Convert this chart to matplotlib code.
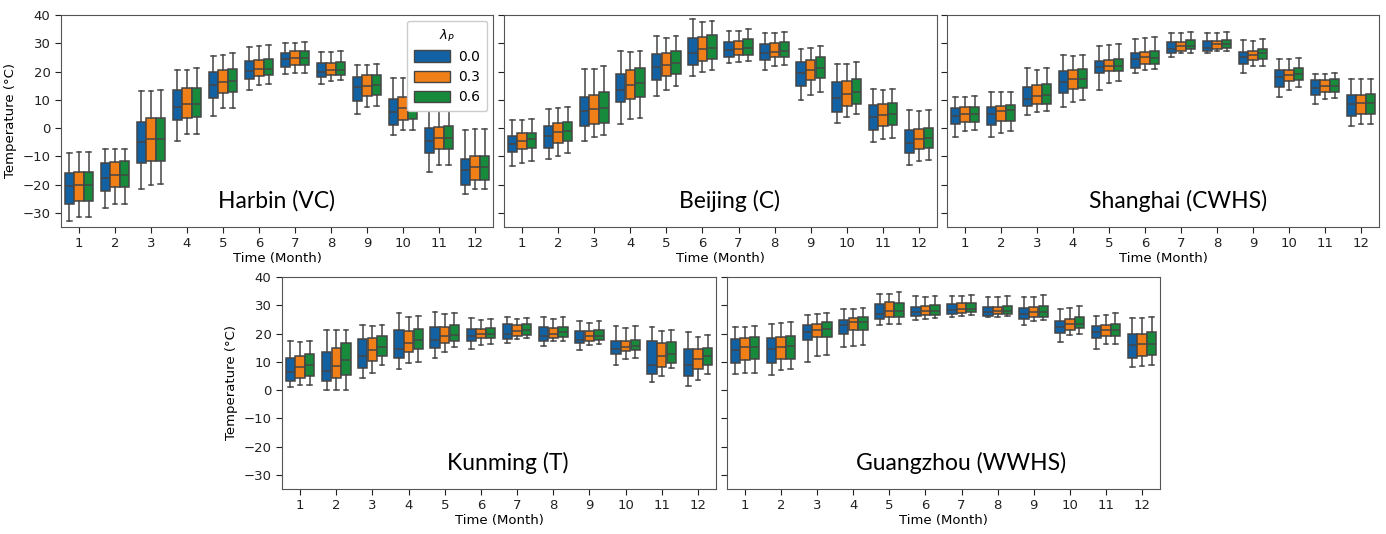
import matplotlib
matplotlib.use("Agg")
import matplotlib.pyplot as plt
from matplotlib.patches import Patch

# box stats per month: (whisker low, q1, median, q3, whisker high)
months = [str(m) for m in range(1, 13)]
lambdas = ["0.0", "0.3", "0.6"]
colors = ["#1262a3", "#f07f17", "#178a3b"]

harbin_00 = [(-33, -27, -20.5, -16, -8.7), (-28.3, -22.2, -17.7, -12.4, -7.3), (-21.5, -12.3, -4.8, 2.0, 13),
             (-4.5, 2.7, 7.5, 13.6, 20.5), (4.2, 10.6, 15.2, 20, 25.4), (13.4, 17.3, 20.3, 23.9, 28.6),
             (19, 21.6, 24.4, 26.7, 30.2), (15.6, 17.9, 20, 23, 27), (5, 9.7, 14.5, 18.2, 22.2),
             (-2.4, 1.2, 5.8, 10.2, 17.6), (-15.4, -8.8, -4.5, 0, 6.8), (-23.4, -20.1, -15, -10.8, -0.7)]
harbin_03 = [(-31.5, -25.7, -20, -15.7, -8.5), (-27, -20.7, -16.7, -12, -7.5), (-20, -11.8, -3.8, 3.5, 13.2),
             (-2.2, 3.5, 8.5, 14, 20.5), (7, 12.4, 16.4, 20.4, 26), (15.4, 18.5, 21, 24, 29),
             (19.6, 22.4, 24.8, 27.3, 30.2), (16.8, 18.8, 20.5, 23, 27), (7.6, 11.3, 15, 18.6, 22.4),
             (-0.8, 2.9, 7, 11, 17.6), (-13.2, -7.3, -3.6, 0.4, 7.4), (-21.7, -18.4, -13.8, -10, -0.5)]
harbin_06 = [(-31.3, -25.8, -20, -15.4, -8.3), (-27, -20.7, -16.6, -11.7, -7.3), (-19.8, -11.7, -3.7, 3.6, 13.3),
             (-2.2, 3.8, 8.6, 14.3, 21.2), (7.2, 12.6, 16.6, 20.8, 26.6), (15.6, 18.6, 21, 24.4, 29.4),
             (19.6, 22.4, 24.9, 27.4, 30.4), (17, 18.9, 20.6, 23.4, 27.2), (7.8, 11.6, 15.2, 18.8, 22.6),
             (-0.8, 3.1, 7.2, 11.2, 17.8), (-13.2, -7.3, -3.6, 0.6, 7.4), (-21.6, -18.3, -13.6, -9.8, -0.4)]

beijing_00 = [(-13.5, -8.6, -5.8, -2.8, 2.7), (-11, -6.9, -2.8, 0.8, 6.7), (-4.4, 0.6, 5.9, 11, 21),
              (1.5, 9.2, 13.4, 19.3, 27.2), (11.2, 16.9, 21.7, 26.2, 32.5), (18.3, 22.2, 26.7, 32, 38.5),
              (23, 25.2, 27.6, 30.4, 34.4), (20.4, 24.1, 26.4, 29.6, 33.7), (9.8, 15, 19.5, 23.2, 27.8),
              (1.8, 5.6, 10.8, 16.4, 22.5), (-5.1, -0.8, 3.8, 8.3, 13.7), (-13.1, -8.9, -5.2, -0.8, 6.5)]
beijing_03 = [(-12.3, -7.5, -4.6, -1.9, 3), (-9.8, -5.4, -1.5, 1.7, 7), (-3, 1.4, 6.9, 11.8, 21),
              (3.1, 10.4, 15.1, 20.5, 26.9), (13.6, 18.3, 22.4, 26.6, 32), (19.9, 23.8, 27.8, 32.1, 37.4),
              (23.4, 25.9, 27.9, 30.7, 34.3), (22.1, 25.1, 27, 30, 33.7), (11.7, 16.9, 20.7, 24.1, 28.3),
              (3.8, 7.9, 12.1, 16.8, 22.8), (-4, 0.6, 4.6, 8.4, 13.6), (-11.8, -7.3, -3.9, -0.2, 6.2)]
beijing_06 = [(-11.8, -6.9, -4, -1.7, 3.1), (-8.8, -4.7, -1.2, 2, 7.4), (-2.6, 1.7, 7.2, 12.7, 21.9),
              (3.6, 11, 16.1, 21.3, 27.3), (14.8, 19, 23.1, 27.2, 32.5), (20.7, 24.3, 28.2, 32.9, 37.9),
              (23.7, 26, 28.2, 31.4, 34.9), (22.4, 25.1, 27.2, 30.3, 34), (12.8, 17.6, 21.4, 25, 29.1),
              (5, 8.4, 12.8, 17.4, 23.4), (-3.6, 1.1, 5, 8.8, 13.8), (-11.4, -6.9, -3.6, 0.2, 6.4)]

shanghai_00 = [(-3.3, 1.3, 4.4, 7, 11), (-3.2, 1.1, 4.9, 7.6, 12.7), (4.7, 7.8, 10.3, 14.4, 21.1),
               (7.5, 12.3, 16.2, 20.1, 25.7), (13.4, 19.4, 21.5, 23.8, 29.2), (19.4, 21.4, 24.4, 26.7, 31.4),
               (25.1, 26.6, 28, 30.5, 33.5), (26.4, 27.2, 28.4, 30.7, 33.5), (19.5, 22.8, 25.2, 27, 31.1),
               (11, 14.6, 18.1, 20.4, 24.3), (8.4, 11.6, 14, 16.9, 19.3), (0.6, 4.1, 8.4, 11.7, 17.2)]
shanghai_03 = [(-1, 2, 5.1, 7.3, 11), (-1.8, 2.6, 6, 7.8, 12.7), (5.8, 8.4, 11.5, 15.1, 20.6),
               (9.1, 13.8, 17.2, 20.5, 25.4), (16, 20.1, 22.1, 24.1, 29.5), (20.6, 22.6, 25, 26.9, 32),
               (26.4, 27.3, 28.9, 30.5, 33.5), (27.1, 28, 29.6, 30.7, 33.5), (21.9, 24, 26, 27.3, 30.8),
               (13.6, 16.7, 18.8, 20.7, 24.3), (10.3, 12.8, 14.9, 17, 19.3), (1.4, 5.1, 8.9, 11.8, 17.4)]
shanghai_06 = [(-0.8, 2, 5.1, 7.5, 11.2), (-1.2, 2.6, 6.3, 8, 12.9), (6, 8.4, 11.8, 15.5, 21.1),
               (10.1, 14.1, 17.3, 20.8, 25.9), (16.7, 20.1, 22.1, 24.6, 29.9), (20.8, 22.6, 24.9, 27.3, 32.3),
               (26.4, 27.8, 29, 31, 34.1), (27.1, 28.2, 29.6, 31.2, 34), (22.1, 24.3, 26.4, 28, 31.4),
               (14.7, 16.9, 19.3, 21.4, 24.9), (10.6, 12.8, 15, 17.3, 19.5), (1.5, 5.1, 8.9, 12, 17.5)]

kunming_00 = [(1.1, 3.1, 6.3, 11.4, 17.3), (-0.1, 3.1, 6.8, 13.5, 21.4), (4.4, 7.7, 12, 18.2, 22.9),
              (7.5, 11.2, 14.7, 21.1, 27.2), (11.5, 14.9, 17.8, 22.2, 27.7), (14.5, 17.5, 19.1, 21.6, 25.6),
              (16.6, 18.1, 19.8, 23.2, 25.9), (15.5, 17.5, 19.1, 22.3, 25.8), (14.2, 16.6, 17.7, 20.9, 24.5),
              (8.7, 12.6, 14.6, 17.2, 22.6), (2.8, 5.6, 8.9, 17.4, 22.3), (1.5, 5, 9, 14.6, 20.5)]
kunming_03 = [(1.7, 4.2, 8, 12.2, 17.1), (-0.1, 4.3, 8.6, 14.9, 21.1), (6.2, 10.2, 14.1, 18.4, 22.5),
              (9.4, 13.4, 16.8, 20.9, 25.8), (13.6, 16.6, 19, 22.4, 26.9), (15.8, 18.4, 20, 21.7, 24.9),
              (18.1, 19.1, 21, 23, 25.1), (17.3, 18.5, 20, 21.8, 25.1), (15.8, 17.5, 19, 20.9, 23.9),
              (10.9, 13.8, 15.2, 17.4, 22.1), (5.1, 8.1, 11.9, 16.5, 20.9), (3.6, 7.6, 10.9, 14.5, 18.8)]
kunming_06 = [(1.9, 4.9, 8.8, 12.8, 17.3), (0, 5.5, 10.6, 16.7, 21.4), (8.9, 12.2, 15.2, 19.1, 22.9),
              (10.1, 14.7, 17.8, 21.7, 26.2), (15.2, 17.3, 19.4, 23.1, 27.4), (16.2, 18.4, 20, 22, 25.2),
              (18.5, 19.6, 21.1, 23.2, 25.6), (17.5, 18.8, 20.4, 22.3, 25.7), (16.2, 17.8, 19.1, 21.1, 24.3),
              (11.2, 14.2, 15.5, 17.8, 22.5), (7.7, 9.7, 12.8, 17, 21.2), (5.6, 8.9, 11.9, 14.9, 19.4)]

guangzhou_00 = [(5.6, 9.4, 14.3, 17.9, 22.2), (5.4, 9.4, 14.5, 18.3, 23.4), (10.1, 17.8, 20.6, 23.1, 26.7),
                (15.1, 19.9, 23.1, 24.9, 28.7), (23.1, 25.2, 27, 30.4, 34.1), (24.9, 26.1, 27.5, 29.3, 33.3),
                (25.7, 26.9, 28.2, 30.3, 33.4), (25.7, 26.3, 27.7, 29.3, 32.9), (23.1, 25.2, 26.9, 29, 32.9),
                (17.1, 20.3, 22.3, 24.5, 28.8), (14.4, 18.4, 20.6, 22.6, 26.1), (8.1, 11.3, 15.8, 19.7, 25.4)]
guangzhou_03 = [(6, 10.8, 15.2, 18.3, 22.2), (7.1, 11.1, 15.3, 18.9, 23.6), (12, 18.6, 21.2, 23.5, 26.9),
                (15.6, 21.2, 24.2, 25.5, 28.7), (23.2, 26, 28.1, 31, 34.1), (25.1, 26.4, 28, 29.6, 32.9),
                (26.3, 27.2, 28.8, 30.8, 33.4), (26, 26.9, 28.1, 29.4, 32.9), (24.5, 25.8, 27.5, 29.4, 32.9),
                (19.6, 21.3, 23.2, 25.1, 29.1), (16.2, 19.3, 21.3, 23, 26.4), (8.5, 12.1, 16.2, 20, 25.4)]
guangzhou_06 = [(6.2, 11, 15.2, 18.6, 22.6), (7.5, 11.1, 15.6, 19.1, 24.1), (12.4, 18.7, 21.5, 24.1, 27.4),
                (15.8, 21.2, 24.2, 25.8, 29), (23.2, 26, 28.1, 30.9, 34.6), (25.4, 26.4, 28.1, 30.1, 33.3),
                (26.4, 27.6, 28.8, 30.9, 33.6), (26.1, 26.9, 28.1, 29.8, 33.4), (24.7, 25.8, 27.6, 29.7, 33.5),
                (20, 21.8, 23.4, 25.7, 29.6), (16.4, 19.2, 21.3, 23.5, 27.1), (8.7, 12.4, 16.3, 20.5, 25.8)]

cities = ["Harbin (VC)", "Beijing (C)", "Shanghai (CWHS)", "Kunming (T)", "Guangzhou (WWHS)"]
city_data = [
    [harbin_00, harbin_03, harbin_06],
    [beijing_00, beijing_03, beijing_06],
    [shanghai_00, shanghai_03, shanghai_06],
    [kunming_00, kunming_03, kunming_06],
    [guangzhou_00, guangzhou_03, guangzhou_06],
]

W, H = 1386, 534
# axes boxes in pixels: left, top, right, bottom
boxes_px = [(61, 15, 493, 227), (504, 15, 937, 227), (947, 15, 1379, 227),
            (282, 277, 716, 489), (727, 277, 1160, 489)]
label_x = [0.5, 0.52, 0.535, 0.52, 0.54]
show_ylabels = [True, False, False, True, False]

line_c = "#454545"
fig = plt.figure(figsize=(W / 100, H / 100), dpi=100)

for k, (name, series) in enumerate(zip(cities, city_data)):
    l, t, r, b = boxes_px[k]
    ax = fig.add_axes([l / W, 1 - b / H, (r - l) / W, (b - t) / H])
    bw = 0.8 / 3
    for j, stats_list in enumerate(series):
        stats = []
        for lo, q1, med, q3, hi in stats_list:
            stats.append(dict(whislo=lo, q1=q1, med=med, q3=q3, whishi=hi, fliers=[]))
        pos = [i + (j - 1) * bw for i in range(12)]
        ax.bxp(stats, positions=pos, widths=bw * 0.98, patch_artist=True, showfliers=False,
               boxprops=dict(facecolor=colors[j], edgecolor=line_c, linewidth=1.1),
               medianprops=dict(color=line_c, linewidth=1.1),
               whiskerprops=dict(color=line_c, linewidth=1.1),
               capprops=dict(color=line_c, linewidth=1.1), manage_ticks=False)
    ax.set_xlim(-0.5, 11.5)
    ax.set_ylim(-35, 40)
    ax.set_xticks(range(12))
    ax.set_xticklabels(months)
    ax.set_yticks(range(-30, 41, 10))
    if show_ylabels[k]:
        ax.set_ylabel("Temperature (°C)", fontsize=9.5)
    else:
        ax.set_yticklabels([])
    ax.set_xlabel("Time (Month)", fontsize=9.5, labelpad=1)
    ax.tick_params(labelsize=9.5, colors="#222222", length=4)
    for s in ax.spines.values():
        s.set_color("#555555")
    ax.text(label_x[k], 0.125, name, transform=ax.transAxes, ha="center", va="center",
            fontsize=16.5, family=["Lato", "DejaVu Sans"])
    if k == 0:
        handles = [Patch(facecolor=c, edgecolor=line_c, label=lab) for c, lab in zip(colors, lambdas)]
        leg = ax.legend(handles=handles, title=r"$\lambda_P$", loc="upper right", fontsize=10,
                        title_fontsize=9.5, handlelength=2.6, handleheight=0.9, borderaxespad=0.4,
                        handletextpad=0.6, borderpad=0.5, labelspacing=0.45,
                        framealpha=1, edgecolor="#cccccc", fancybox=True)

fig.savefig("out.png", dpi=100)
